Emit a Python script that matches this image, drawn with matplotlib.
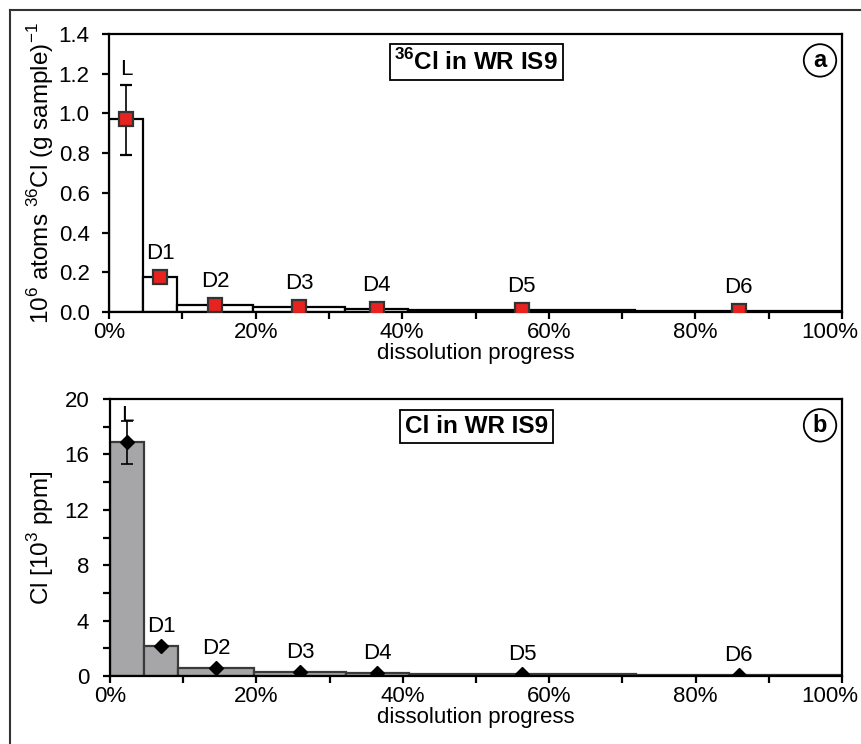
import numpy as np
import matplotlib
matplotlib.use('Agg')
import matplotlib.pyplot as plt
from matplotlib.ticker import MultipleLocator, FuncFormatter
from matplotlib.lines import Line2D

plt.rcParams['font.family'] = ['Liberation Sans', 'DejaVu Sans']
plt.rcParams['mathtext.fontset'] = 'custom'
plt.rcParams['mathtext.rm'] = 'Liberation Sans'
plt.rcParams['mathtext.bf'] = 'Liberation Sans:bold'

# step boundaries of the dissolution fractions (fraction of total dissolved)
edges = [0.0, 0.047, 0.093, 0.197, 0.322, 0.408, 0.718, 1.0]
steps = ["L", "D1", "D2", "D3", "D4", "D5", "D6"]

# 36Cl concentration, 10^6 atoms (g sample)^-1
cl36 = [0.973, 0.174, 0.037, 0.025, 0.015, 0.012, 0.005]
cl36_err_lo = [0.183, 0, 0, 0, 0, 0, 0]
cl36_err_hi = [0.171, 0, 0, 0, 0, 0, 0]

# Cl concentration, 10^3 ppm
cl = [16.9, 2.2, 0.6, 0.3, 0.25, 0.12, 0.05]
cl_err_lo = [1.6, 0, 0, 0, 0, 0, 0]
cl_err_hi = [1.5, 0, 0, 0, 0, 0, 0]

x_ticks = [0.0, 0.2, 0.4, 0.6, 0.8, 1.0]

left = np.array(edges[:-1])
width = np.diff(edges)
mid = left + width / 2

FS = 16

fig = plt.figure(figsize=(8.62, 7.44), dpi=100)
ax_a = fig.add_axes([0.1265, 0.5806, 0.8503, 0.3737])
ax_b = fig.add_axes([0.1276, 0.0914, 0.8492, 0.3723])


def pct(v, pos):
    # last label is drawn separately, nudged left like in the original
    if v > 0.999:
        return ""
    return f"{v * 100:.0f}%"


def style_axis(ax, ymax, ymaj, ymin=None, yfmt=None, ypad=9):
    ax.set_xlim(0, 1)
    ax.set_ylim(0, ymax)
    ax.set_xticks(x_ticks)
    ax.xaxis.set_minor_locator(MultipleLocator(0.1))
    ax.xaxis.set_major_formatter(FuncFormatter(pct))
    ax.yaxis.set_major_locator(MultipleLocator(ymaj))
    if ymin:
        ax.yaxis.set_minor_locator(MultipleLocator(ymin))
    if yfmt:
        ax.yaxis.set_major_formatter(yfmt)
    for s in ax.spines.values():
        s.set_linewidth(1.6)
        s.set_color('black')
    ax.tick_params(which='both', direction='out', length=5, width=1.6,
                   labelsize=FS, colors='black')
    ax.tick_params(axis='x', pad=2)
    ax.tick_params(axis='y', pad=ypad)
    ax.annotate("100%", (1.0, 0), xycoords=ax.get_xaxis_transform(),
                xytext=(-9, -7), textcoords='offset points',
                ha='center', va='top', fontsize=FS)
    ax.set_xlabel("dissolution progress", fontsize=FS, labelpad=0)


def step_labels(ax, vals, errs, off_err, off_pt):
    for i, lab in enumerate(steps):
        off = off_err if errs[i] else off_pt
        ax.annotate(lab, (mid[i], vals[i] + errs[i]), xytext=(0, off),
                    textcoords='offset points', ha='center', va='baseline',
                    fontsize=FS)


# panel a
ax_a.bar(left, cl36, width, align='edge', facecolor='white',
         edgecolor='black', linewidth=1.6, zorder=2)
ax_a.errorbar(mid, cl36, yerr=[cl36_err_lo, cl36_err_hi], fmt='s',
              ms=10, mfc='#e8231f', mec='#333333', mew=1.6,
              ecolor='black', elinewidth=1.2, capsize=4.5, capthick=1.2, zorder=4)
step_labels(ax_a, cl36, cl36_err_hi, 7, 13)
style_axis(ax_a, 1.4, 0.2, yfmt=FuncFormatter(lambda v, p: f"{v:.1f}"), ypad=9)
ax_a.set_ylabel(r"10$^{6}$ atoms $^{36}$Cl (g sample)$^{-1}$", fontsize=17.5, labelpad=2)
ax_a.text(0.501, 0.90, r"$^{\mathbf{36}}$Cl in WR IS9", transform=ax_a.transAxes,
          ha='center', va='center', fontsize=17.5, fontweight='bold',
          bbox=dict(boxstyle='square,pad=0.2', fc='white', ec='black', lw=1.3))
ax_a.text(0.97, 0.905, "a", transform=ax_a.transAxes, ha='center', va='center',
          fontsize=17, fontweight='bold',
          bbox=dict(boxstyle='circle,pad=0.2', fc='white', ec='black', lw=1.3))

# panel b
ax_b.bar(left, cl, width, align='edge', facecolor='#a6a6a8',
         edgecolor='#3a3a3a', linewidth=1.6, zorder=2)
ax_b.errorbar(mid, cl, yerr=[cl_err_lo, cl_err_hi], fmt='D',
              ms=7, mfc='black', mec='black', ecolor='black',
              elinewidth=1.2, capsize=4.5, capthick=1.2, zorder=4)
step_labels(ax_b, cl, cl_err_hi, 0, 10)
style_axis(ax_b, 20, 4, ymin=2, ypad=10)
ax_b.set_ylabel(r"Cl [10$^{3}$ ppm]", fontsize=17.5, labelpad=6)
ax_b.text(0.501, 0.90, "Cl in WR IS9", transform=ax_b.transAxes,
          ha='center', va='center', fontsize=17.5, fontweight='bold',
          bbox=dict(boxstyle='square,pad=0.2', fc='white', ec='black', lw=1.3))
ax_b.text(0.97, 0.905, "b", transform=ax_b.transAxes, ha='center', va='center',
          fontsize=17, fontweight='bold',
          bbox=dict(boxstyle='circle,pad=0.2', fc='white', ec='black', lw=1.3))

# outer frame (left and top edges visible in the original)
fig.add_artist(Line2D([10 / 862, 10 / 862], [0, 1 - 10 / 744], transform=fig.transFigure,
                      color='#333333', lw=1.5))
fig.add_artist(Line2D([10 / 862, 1], [1 - 10 / 744, 1 - 10 / 744], transform=fig.transFigure,
                      color='#333333', lw=1.5))

fig.savefig('out.png', dpi=100)
